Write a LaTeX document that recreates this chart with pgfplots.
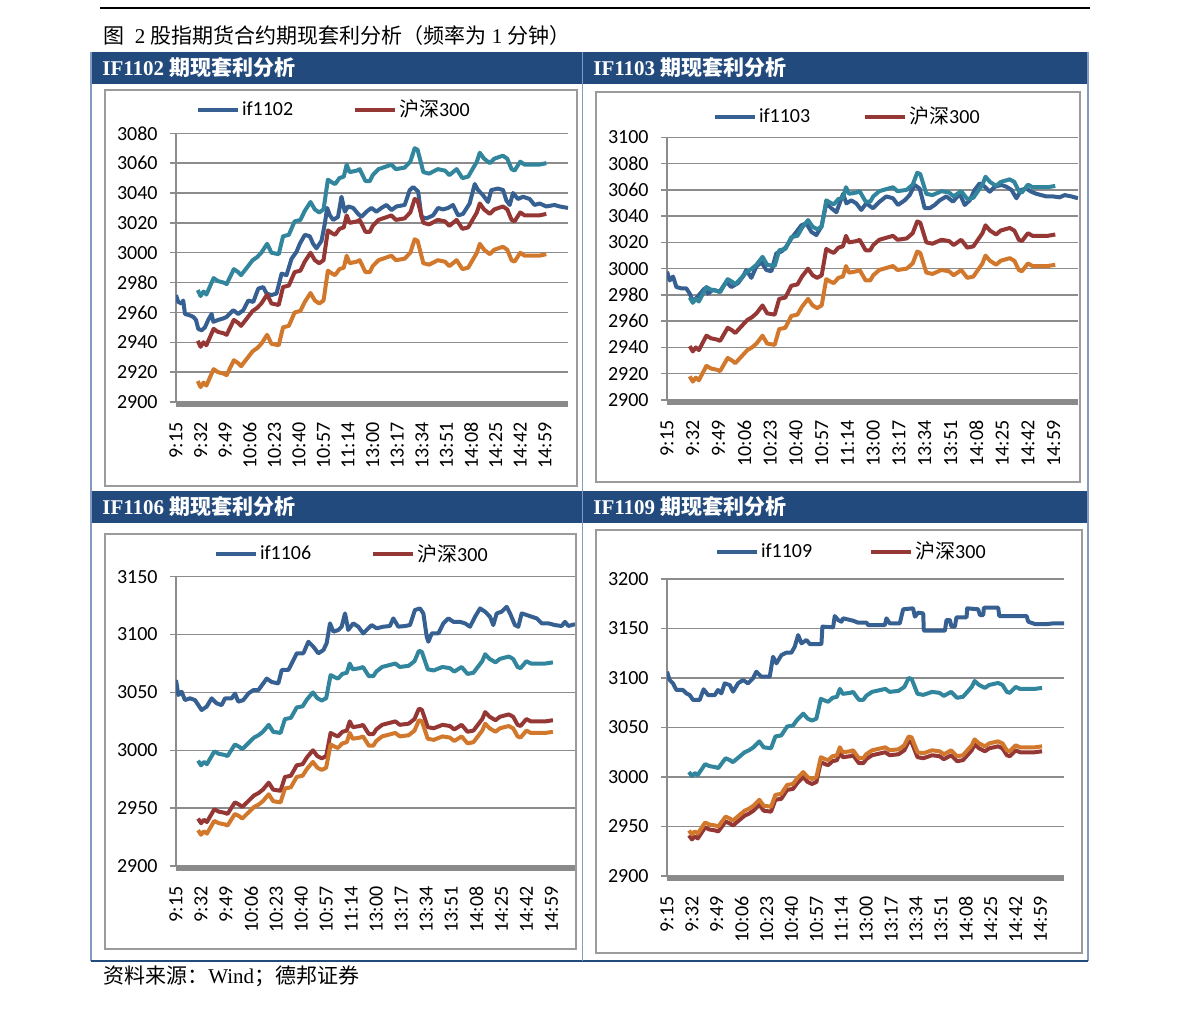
\documentclass[border=0pt]{standalone}
\usepackage{pgfplots}
\pgfplotsset{compat=1.18}
\usepackage{pgfplotstable}
\usepackage{fontspec}
\setmainfont{Liberation Serif}
\newfontfamily\cjk{Noto Sans CJK SC}
\newfontfamily\tf{Carlito}
\definecolor{hdr}{RGB}{34,74,124}
\definecolor{bord}{RGB}{130,155,192}
\definecolor{frm}{RGB}{155,155,155}
\definecolor{gridc}{RGB}{140,140,140}
\definecolor{band}{RGB}{138,138,138}
\definecolor{cfut}{RGB}{55,96,146}
\definecolor{cidx}{RGB}{149,55,53}
\definecolor{cup}{RGB}{49,133,156}
\definecolor{clo}{RGB}{210,120,45}
\newcommand\tickf{\tf\fontsize{10pt}{12pt}\selectfont}

\pgfplotstableread{
x idx u2 l2 u3 l3 u6 l6 u9 l9
15 2941 2975 2914 2978 2918 2991 2931 3005 2946
17 2937 2971 2910 2974 2914 2987 2927 3001 2942
19 2940 2974 2913 2977 2917 2990 2930 3004 2945
21 2938 2972 2911 2975 2915 2988 2928 3002 2943
26 2949 2983 2922 2986 2926 2999 2939 3013 2954
29 2947 2981 2920 2984 2924 2997 2937 3011 2952
33 2946 2980 2919 2983 2923 2996 2936 3010 2951
35 2945 2979 2918 2982 2922 2995 2935 3009 2950
40 2955 2989 2928 2992 2932 3005 2945 3019 2960
43 2953 2987 2926 2990 2930 3003 2943 3017 2958
45 2951 2985 2924 2988 2928 3001 2941 3015 2956
49 2956 2990 2929 2993 2933 3006 2946 3020 2961
53 2961 2995 2934 2998 2938 3011 2951 3025 2966
56 2963 2997 2936 3000 2940 3013 2953 3027 2968
59 2966 3000 2939 3003 2943 3016 2956 3030 2971
63 2972 3006 2945 3009 2949 3022 2962 3036 2977
66 2966 3000 2939 3003 2943 3016 2956 3030 2971
71 2965 2999 2938 3002 2942 3015 2955 3029 2970
74 2977 3011 2950 3014 2954 3027 2967 3041 2982
78 2978 3012 2951 3015 2955 3028 2968 3042 2983
82 2987 3021 2960 3024 2964 3037 2977 3051 2992
86 2988 3022 2961 3025 2965 3038 2978 3052 2993
89 2994 3028 2967 3031 2971 3044 2984 3058 2999
93 3000 3034 2973 3037 2977 3050 2990 3064 3005
96 2995 3029 2968 3032 2972 3045 2985 3059 3000
99 2993 3027 2966 3030 2970 3043 2983 3057 2998
102 2995 3029 2968 3032 2972 3045 2985 3059 3000
105 3015 3049 2988 3052 2992 3065 3005 3079 3020
108 3013 3047 2986 3050 2990 3063 3003 3077 3018
110 3012 3046 2985 3049 2989 3062 3002 3076 3017
113 3016 3050 2989 3053 2993 3066 3006 3080 3021
116 3017 3051 2990 3054 2994 3067 3007 3081 3022
118 3025 3059 2998 3062 3002 3075 3015 3089 3030
120 3020 3054 2993 3057 2997 3070 3010 3084 3025
125 3021 3055 2994 3058 2998 3071 3011 3085 3026
127 3022 3056 2995 3059 2999 3072 3012 3086 3027
131 3014 3048 2987 3051 2991 3064 3004 3078 3019
134 3014 3048 2987 3051 2991 3064 3004 3078 3019
136 3018 3052 2991 3055 2995 3068 3008 3082 3023
140 3022 3056 2995 3059 2999 3072 3012 3086 3027
143 3023 3057 2996 3060 3000 3073 3013 3087 3028
149 3025 3059 2998 3062 3002 3075 3015 3089 3030
152 3022 3056 2995 3059 2999 3072 3012 3086 3027
158 3023 3057 2996 3060 3000 3073 3013 3087 3028
162 3027 3061 3000 3064 3004 3077 3017 3091 3032
165 3036 3070 3009 3073 3013 3086 3026 3100 3041
167 3035 3069 3008 3072 3012 3085 3025 3099 3040
171 3020 3054 2993 3057 2997 3070 3010 3084 3025
175 3019 3053 2992 3056 2996 3069 3009 3083 3024
181 3022 3056 2995 3059 2999 3072 3012 3086 3027
186 3021 3055 2994 3058 2998 3071 3011 3085 3026
189 3018 3052 2991 3055 2995 3068 3008 3082 3023
194 3022 3056 2995 3059 2999 3072 3012 3086 3027
198 3016 3050 2989 3053 2993 3066 3006 3080 3021
202 3017 3051 2990 3054 2994 3067 3007 3081 3022
208 3027 3061 3000 3064 3004 3077 3017 3091 3032
210 3033 3067 3006 3070 3010 3083 3023 3097 3038
213 3029 3063 3002 3066 3006 3079 3019 3093 3034
217 3026 3060 2999 3063 3003 3076 3016 3090 3031
220 3029 3063 3002 3066 3006 3079 3019 3093 3034
226 3031 3065 3004 3068 3008 3081 3021 3095 3036
229 3029 3063 3002 3066 3006 3079 3019 3093 3034
232 3022 3056 2995 3059 2999 3072 3012 3086 3027
234 3021 3055 2994 3058 2998 3071 3011 3085 3026
238 3027 3061 3000 3064 3004 3077 3017 3091 3032
241 3025 3059 2998 3062 3002 3075 3015 3089 3030
247 3025 3059 2998 3062 3002 3075 3015 3089 3030
251 3025 3059 2998 3062 3002 3075 3015 3089 3030
256 3026 3060 2999 3063 3003 3076 3016 3090 3031
}\idxtab

\pgfplotsset{
  panel/.style={
    scale only axis, anchor=south west,
    xmin=0, xmax=271,
    axis x line*=bottom, axis y line*=left,
    x axis line style={draw=none},
    y axis line style={draw=gridc, line width=0.75pt},
    xtick={0,17,...,255},
    xticklabels={9:15,9:32,9:49,10:06,10:23,10:40,10:57,11:14,13:00,13:17,13:34,13:51,14:08,14:25,14:42,14:59},
    xtick style={draw=none},
    ytick style={draw=gridc, line width=0.75pt},
    tick align=outside, major tick length=3pt,
    ymajorgrids, major grid style={draw=gridc, line width=0.75pt},
    xticklabel style={rotate=90, anchor=east, font=\tickf, inner sep=0pt},
    yticklabel style={anchor=east, font=\tickf, inner sep=0pt},
    xticklabel shift=7pt, yticklabel shift=6pt,
    legend columns=2,
    legend style={draw=none, fill=none, inner sep=0pt, outer sep=0pt, font=\tickf,
      at={(axis description cs:0,1)}, anchor=west,
      nodes={inner sep=1pt},
      /tikz/every even column/.append style={column sep=29pt}},
    legend image code/.code={\draw[#1, line width=2pt] (0pt,0pt) -- (20pt,0pt);},
    every axis plot/.append style={line width=2pt, line join=round},
    after end axis/.append code={\draw[band, line width=2.5pt] ([yshift=-1.25pt]rel axis cs:0,0) -- ([yshift=-1.25pt]rel axis cs:1,0);},
  }
}

\begin{document}
\begin{tikzpicture}
\path[use as bounding box] (0,0) rectangle (595.5pt,-504.5pt);
\begin{scope}[x=0.5pt,y=-0.5pt]
\fill[white] (0,0) rectangle (1191,1009);
\draw[black, line width=0.7pt] (100,8) -- (1090,8);
\node[anchor=west, inner sep=0pt, font=\fontsize{10.5pt}{12pt}\selectfont] at (103,36) {{\cjk 图}\ \ 2 {\cjk 股指期货合约期现套利分析（频率为}\ 1\ {\cjk 分钟）}};
\fill[hdr] (91,52) rectangle (1088,84);
\fill[hdr] (91,491) rectangle (1088,523);
\draw[bord, line width=0.6pt] (91,52) -- (91,961);
\draw[bord, line width=0.6pt] (1088,52) -- (1088,961);
\draw[hdr, line width=0.6pt] (91,961) -- (1088,961);
\draw[bord, line width=0.8pt] (582.5,52) -- (582.5,961);
\draw[frm, line width=1.1pt] (105,90) rectangle (577,486);
\draw[frm, line width=1.1pt] (596,92) rectangle (1080,482);
\draw[frm, line width=1.1pt] (105,534) rectangle (576,949);
\draw[frm, line width=1.1pt] (596,530) rectangle (1082,953);
\begin{scope}[every node/.style={anchor=west, inner sep=0pt, text=white, font=\bfseries\fontsize{10.5pt}{12pt}\selectfont}]
\node at (102,68) {IF1102 {\cjk 期现套利分析}};
\node at (593,68) {IF1103 {\cjk 期现套利分析}};
\node at (102,507) {IF1106 {\cjk 期现套利分析}};
\node at (593,507) {IF1109 {\cjk 期现套利分析}};
\end{scope}
\node[anchor=west, inner sep=0pt, font=\fontsize{10.5pt}{12pt}\selectfont] at (103,976) {{\cjk 资料来源：}Wind{\cjk ；德邦证券}};
\end{scope}

% IF1102
\begin{axis}[panel, at={(88pt,-201pt)}, width=196pt, height=134.35pt,
  ymin=2900, ymax=3080, ytick={2900,2920,...,3080},
  yticklabels={2900,2920,2940,2960,2980,3000,3020,3040,3060,3080},
  legend style={xshift=10pt, yshift=11.7pt}]
\addplot[cfut] coordinates {(0,2971.6)(1.6,2967)(3.9,2966)(5,2968)(6.2,2959)(9.7,2958)(12,2957)(13.8,2955)(15.4,2949)(17.7,2948)(20,2950)(22.3,2955)(24.6,2959)(25.8,2953.7)(29.2,2955)(32.7,2956)(35,2957)(39.6,2961.5)(43,2959)(46.5,2961.5)(50,2968)(53.4,2967)(56.9,2976)(60.3,2977)(62.6,2972.7)(66,2971.6)(69.5,2972.7)(73,2986)(76.4,2985)(79.9,2996)(83.3,3000.6)(85.6,3006)(89.1,3012)(92.5,3011)(94.8,3006)(97.1,3003)(100.6,3008)(102.9,3019.6)(104.5,3030)(106.4,3025)(108.7,3022)(112,3024)(114.4,3037.5)(116.7,3027.5)(119,3031)(122.5,3030)(125.9,3026)(128.2,3024)(131.7,3027.5)(135.1,3030)(138.6,3027.5)(142,3030)(145.5,3032)(149,3028.6)(152.4,3031)(158.1,3032)(161.6,3042)(164,3044)(167.4,3041)(169.7,3024)(173.1,3023)(177.7,3025)(181.2,3030)(184.6,3029)(188.1,3030)(191.5,3032)(195,3025)(198.4,3026)(203,3033)(206.5,3046)(208.8,3042)(212.2,3038.6)(215.7,3034)(218,3042)(222.6,3043)(226.1,3042)(228.4,3035)(230.7,3032)(233,3040)(236.4,3036)(239.9,3037.5)(244.5,3036)(247.9,3032)(251.4,3033)(256,3031)(261.7,3032)(265.2,3031)(271,3030)};
\addlegendentry{if1102}
\addplot[cidx] table[x=x,y=idx]{\idxtab};
\addlegendentry{{\cjk 沪深}300}
\addplot[cup, forget plot] table[x=x,y=u2]{\idxtab};
\addplot[clo, forget plot] table[x=x,y=l2]{\idxtab};
\end{axis}

% IF1103
\begin{axis}[panel, at={(333.5pt,-200pt)}, width=205.5pt, height=131.35pt,
  ymin=2900, ymax=3100, ytick={2900,2920,...,3100},
  yticklabels={2900,2920,2940,2960,2980,3000,3020,3040,3060,3080,3100},
  legend style={xshift=23pt, yshift=10.3pt, /tikz/every even column/.append style={column sep=25.5pt}}]
\addplot[cfut] coordinates {(0,2997.7)(1.8,2991)(4,2994)(6.2,2986)(9.5,2985)(12.7,2985)(15,2981)(17.1,2975)(20.4,2979)(24.8,2985)(27,2981)(30.3,2984)(34.7,2982.5)(39.1,2990)(42.4,2986)(46.8,2989)(50.1,2994)(52.3,2999)(55.6,2993)(58.9,3001.5)(62.2,3005)(65.5,2999)(68.8,2998)(72.1,3011.7)(75.4,3013)(78.7,3016.8)(82,3023)(85.3,3028)(88.6,3033)(91.9,3034.5)(95.2,3028)(98.5,3025.6)(101.8,3032)(105.1,3049.7)(108.4,3046)(111.7,3043)(116.1,3057)(118.3,3049.7)(121.5,3052)(124.8,3049.7)(128.1,3044.7)(131.4,3049.7)(135.8,3046)(140.2,3051)(144.6,3055)(149,3053.6)(152.3,3048.5)(156.7,3052)(160,3056)(163.3,3063.7)(166.6,3061)(169.9,3046)(173.2,3046)(176.5,3048.5)(179.8,3052)(184.2,3055)(188.6,3051)(193,3057)(196.3,3048.5)(199.6,3052)(202.9,3060)(206.2,3065)(209.5,3062.4)(212.8,3058.6)(216.1,3062.4)(220.5,3063.7)(223.8,3062.4)(227.1,3060)(230.4,3053.6)(233.6,3060)(236.9,3061)(240.2,3058.6)(243.5,3057)(246.8,3056)(250.1,3055)(254.5,3055)(258.9,3054.3)(262.2,3056)(266.6,3055)(271,3053.6)};
\addlegendentry{if1103}
\addplot[cidx] table[x=x,y=idx]{\idxtab};
\addlegendentry{{\cjk 沪深}300}
\addplot[cup, forget plot] table[x=x,y=u3]{\idxtab};
\addplot[clo, forget plot] table[x=x,y=l3]{\idxtab};
\end{axis}

% IF1106
\begin{axis}[panel, at={(88pt,-433pt)}, width=199.5pt, height=144.65pt,
  ymin=2900, ymax=3150, ytick={2900,2950,...,3150},
  yticklabels={2900,2950,3000,3050,3100,3150},
  legend style={xshift=19pt, yshift=11.3pt}]
\addplot[cfut] coordinates {(0,3060.7)(1.6,3047.8)(3.8,3050.6)(6.1,3043.4)(9.5,3044.9)(12.9,3043.4)(15.2,3039)(17.4,3034.8)(20.8,3037.7)(24.2,3044.9)(27.6,3040.6)(31,3039)(33.3,3044.9)(37.8,3044.9)(40.1,3049)(42.3,3042)(45.7,3043.4)(49.1,3049)(52.5,3052)(55.9,3052)(59.3,3057.8)(61.6,3062)(65,3059)(69.5,3057.8)(71.8,3069.4)(76.3,3069.4)(78.6,3075)(82,3083.8)(86.5,3083.8)(89.9,3093.8)(93.3,3089.5)(96.7,3083.8)(100.1,3086.6)(102.3,3092.4)(104.6,3109.7)(106.9,3102.5)(110.3,3104)(112.5,3106.8)(114.8,3118.3)(117,3104)(120.4,3109.7)(123.8,3106.8)(127.2,3101)(129.5,3104)(132.9,3108.2)(136.3,3105.4)(140.8,3106.8)(145.3,3107.4)(147.6,3114)(151,3106.8)(155.5,3107.4)(158.9,3108.2)(162.3,3121.2)(165.7,3122.6)(168,3118.3)(170.3,3098.2)(171.4,3093.8)(173.7,3101)(178.2,3101)(181.6,3109.7)(185,3114)(188.4,3111)(192.9,3111)(196.3,3109.7)(199.7,3106.8)(203.1,3115.4)(206.5,3122.6)(209.9,3119.8)(213.3,3115.4)(215.5,3108.2)(217.8,3118.3)(221.2,3119.8)(224.6,3124)(226.9,3118.3)(230.2,3108.2)(232.5,3106.8)(234.8,3118.3)(238.2,3116.9)(241.6,3115.4)(245,3114)(248.4,3109.7)(252.9,3109.7)(257.4,3108.2)(261.9,3107.4)(264.2,3111)(266.5,3107.4)(271,3109)};
\addlegendentry{if1106}
\addplot[cidx] table[x=x,y=idx]{\idxtab};
\addlegendentry{{\cjk 沪深}300}
\addplot[cup, forget plot] table[x=x,y=u6]{\idxtab};
\addplot[clo, forget plot] table[x=x,y=l6]{\idxtab};
\end{axis}

% IF1109
\begin{axis}[panel, at={(333.5pt,-438pt)}, width=198.5pt, height=148.5pt,
  ymin=2900, ymax=3200, ytick={2900,2950,...,3200},
  yticklabels={2900,2950,3000,3050,3100,3150,3200},
  legend style={xshift=24pt, yshift=13.5pt, /tikz/every even column/.append style={column sep=27.5pt}}]
\addplot[cfut] coordinates {(0,3106.4)(1.8,3098)(4.1,3094.6)(6.4,3087.9)(10.9,3087.9)(13.2,3084.5)(15.5,3082.8)(17.8,3077.8)(22.3,3077.8)(25,3088.6)(28,3082.8)(32.6,3082.8)(34.8,3087.9)(37.1,3084.5)(39.4,3094.6)(42.8,3092.9)(45.1,3086.2)(48.5,3094.6)(51.9,3098)(55.3,3094.6)(58.7,3099.7)(61,3106.4)(64.4,3101.3)(70.1,3101.3)(72.4,3121.5)(74.7,3114.8)(78.1,3123.2)(81.5,3125.6)(84.9,3125.6)(87.2,3131.6)(89.5,3143.4)(91.8,3135)(95.2,3138.4)(97.5,3134.3)(102,3134.3)(105.4,3134.3)(106.1,3151.9)(113.4,3151.2)(114.5,3162.6)(116.8,3158.6)(119.1,3156.9)(120.2,3160.3)(127,3157.9)(130.5,3155.9)(136.2,3155.9)(137.3,3153.5)(148.7,3153.5)(149.8,3160.3)(152.1,3155.2)(158.9,3155.2)(161.2,3169.4)(168,3170.4)(169.2,3162)(171.5,3166)(174.9,3165.3)(175.3,3147.8)(189.7,3147.8)(190.8,3158.6)(193.1,3158.6)(194.2,3151.9)(196.5,3151.9)(197.6,3161.3)(204.5,3161.3)(204.9,3170.4)(212.4,3169.4)(213.6,3163.6)(215.9,3163.6)(216.3,3171)(226.1,3171)(226.8,3162.6)(245.5,3162.6)(246.6,3156.9)(251.2,3154.5)(259.1,3154.5)(263.7,3155.2)(271,3155.2)};
\addlegendentry{if1109}
\addplot[cidx] table[x=x,y=idx]{\idxtab};
\addlegendentry{{\cjk 沪深}300}
\addplot[cup, forget plot] table[x=x,y=u9]{\idxtab};
\addplot[clo, forget plot] table[x=x,y=l9]{\idxtab};
\end{axis}
\end{tikzpicture}
\end{document}
